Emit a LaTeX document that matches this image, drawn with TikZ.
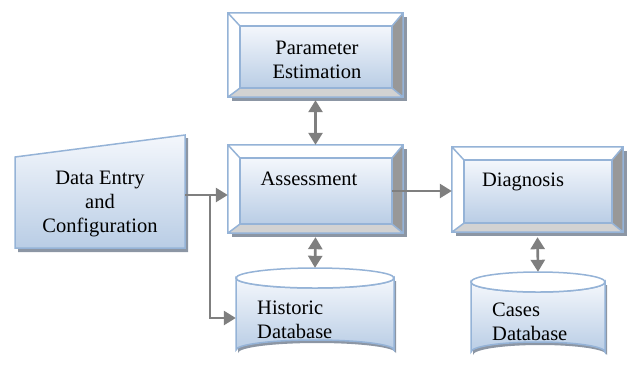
\documentclass[tikz,border=0pt]{standalone}
\usepackage{fontspec}
\setmainfont{Liberation Serif}
\usetikzlibrary{arrows.meta}

\definecolor{edgeblue}{HTML}{95B3D7}
\definecolor{facetop}{HTML}{F4F7FC}
\definecolor{facebot}{HTML}{B9CDE5}
\definecolor{linkgray}{HTML}{7F7F7F}
\definecolor{bevelright}{HTML}{989898}
\definecolor{bevelbot}{HTML}{D2D2D2}
\definecolor{dropgray}{HTML}{8C96A4}

\tikzset{
  face/.style={draw=edgeblue, line width=1.5pt, top color=facetop, bottom color=facebot},
  rim/.style={draw=edgeblue, line width=1.5pt},
  label text/.style={inner sep=0pt, font=\fontsize{20.5}{24}\selectfont},
  tip/.tip={Triangle[length=12pt,width=14pt]},
  link/.style={draw=linkgray, line width=2.6pt, -tip},
  twoway/.style={link, tip-tip},
}

% bevelled box: name, centre x, centre y, width, height
\newcommand\bevelbox[5]{%
  \node[minimum width=#4, minimum height=#5, inner sep=0pt] (#1) at (#2,#3) {};
  \coordinate (#1-a) at ([shift={(12pt,-13pt)}]#1.north west);
  \coordinate (#1-b) at ([shift={(-11pt,9pt)}]#1.south east);
  \fill[dropgray] ([shift={(4pt,-4pt)}]#1.south west) rectangle ([shift={(4pt,-4pt)}]#1.north east);
  \fill[white] (#1.south west) rectangle (#1.north east);
  \fill[bevelright] (#1.north east) -- (#1-a -| #1-b) -- (#1-b) -- (#1.south east) -- cycle;
  \fill[bevelbot] (#1.south west) -- (#1-a |- #1-b) -- (#1-b) -- (#1.south east) -- cycle;
  \draw[face] (#1-a) rectangle (#1-b);
  \draw[rim] (#1.south west) rectangle (#1.north east)
    (#1.north west) -- (#1-a) (#1.north east) -- (#1-a -| #1-b)
    (#1.south west) -- (#1-a |- #1-b) (#1.south east) -- (#1-b);
}

% drum: name, left x, right x, top y, bottom y
\newcommand\drum[5]{%
  \pgfmathsetmacro\drumx{(#2+#3)/2}
  \pgfmathsetmacro\drumr{(#3-#2)/2}
  \node[minimum width=#3-#2, minimum height=#5-#4, inner sep=0pt] (#1) at (\drumx,{(#4+#5)/2}) {};
  \fill[dropgray] (#2+2,#4+13) -- (#2+2,#5-7) arc[start angle=180, end angle=360, x radius=\drumr, y radius=10] -- (#3+2,#4+13) -- cycle;
  \draw[face] (#2,#4+10) -- (#2,#5-10) arc[start angle=180, end angle=360, x radius=\drumr, y radius=10]
    -- (#3,#4+10) arc[start angle=0, end angle=180, x radius=\drumr, y radius=10] -- cycle;
  \draw[rim, fill=white] (\drumx,#4+10) ellipse [x radius=\drumr, y radius=10];
}

\begin{document}
\begin{tikzpicture}[x=1pt, y=-1pt]
  \useasboundingbox (0,0) rectangle (628,365);

  % data entry (trapezoid)
  \node[minimum width=170, minimum height=113, inner sep=0pt] (entry) at (100,192) {};
  \fill[dropgray] (18,160) -- (188,138) -- (188,252) -- (18,252) -- cycle;
  \draw[face] (15,157) -- (185,135) -- (185,248) -- (15,248) -- cycle;
  \coordinate (entry-out) at (185,195);
  \coordinate (split) at (210,195);

  \bevelbox{param}{315.5}{55}{175}{84}
  \bevelbox{assess}{315.5}{189}{175}{88}
  \bevelbox{diag}{537.5}{189.5}{171}{85}
  \drum{hist}{236}{394}{268}{360}
  \drum{cases}{471}{605}{272}{362}

  \node[label text, align=center] (param-t) at (317,60) {Parameter\\Estimation};
  \node[label text, anchor=base] (assess-t) at (309,185) {Assessment};
  \node[label text, anchor=base] (diag-t) at (523,186) {Diagnosis};
  \node[label text, align=center] (entry-t) at (100,204) {Data Entry\\and\\Configuration};
  \node[label text, align=left, anchor=north west] (hist-t) at (257,301) {Historic\\Database};
  \node[label text, align=left, anchor=north west] (cases-t) at (492,303) {Cases\\Database};

  \draw[link] (entry-out) -- (entry-out -| assess.west);
  \draw[link] (split) |- ([yshift=-4pt]hist.west);
  \draw[link] ([yshift=-2pt]assess-b |- assess.center) -- ([yshift=-2pt]assess.center -| diag.west);
  \draw[twoway] ([yshift=-3pt]param.south) -- (assess.north);
  \draw[twoway] ([yshift=-4pt]assess.south) -- (hist.north);
  \draw[twoway] ([yshift=-5pt]diag.south) -- (cases.north);
\end{tikzpicture}
\end{document}
